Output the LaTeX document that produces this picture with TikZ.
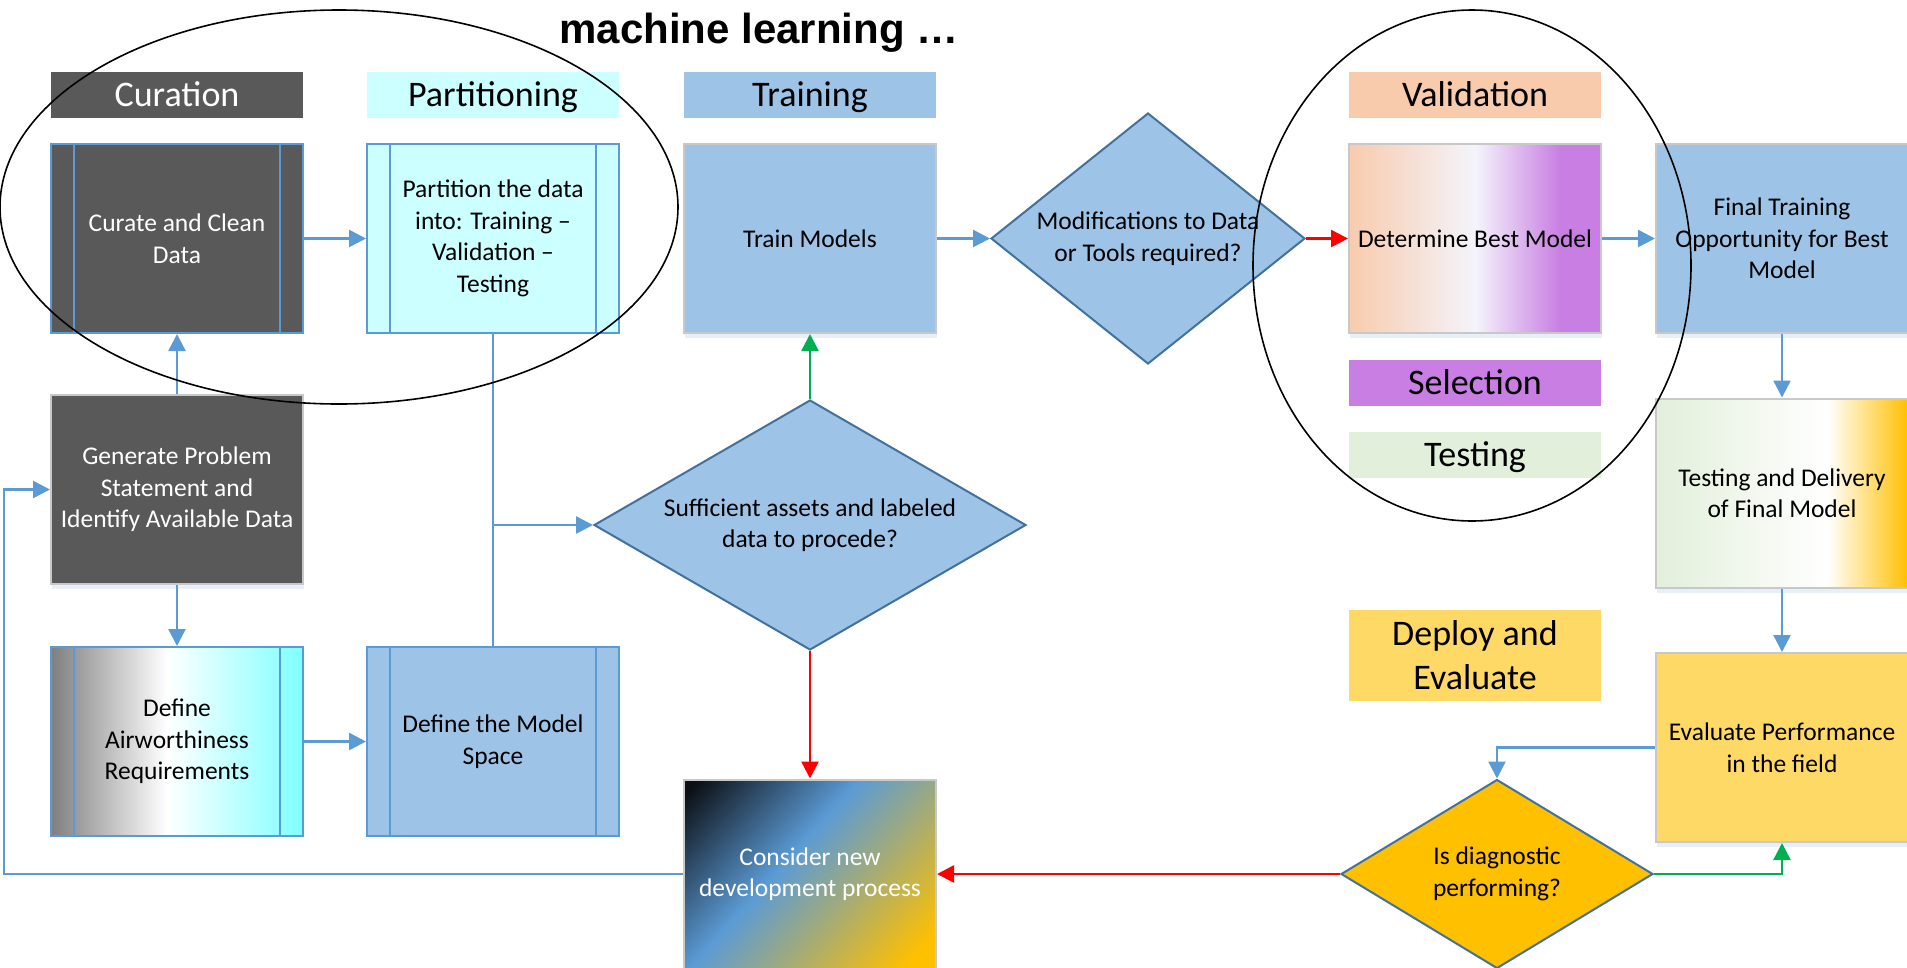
\documentclass[tikz,border=0pt]{standalone}
\usepackage{fontspec}
\setmainfont{Carlito}
\newfontfamily\titlefont{Liberation Sans}
\usetikzlibrary{calc}
\usetikzlibrary{arrows.meta}
\usetikzlibrary{shapes.geometric}
\usetikzlibrary{shadows}

\definecolor{curgray}{HTML}{595959}
\definecolor{partcyan}{HTML}{CCFFFF}
\definecolor{trainblue}{HTML}{9DC3E6}
\definecolor{valpeach}{HTML}{F8CBAD}
\definecolor{selpurple}{HTML}{C87EE2}
\definecolor{testgreen}{HTML}{E2EFDA}
\definecolor{deployyellow}{HTML}{FFD966}
\definecolor{gold}{HTML}{FFC000}
\definecolor{lineblue}{HTML}{5B9BD5}
\definecolor{edgeblue}{HTML}{41719C}
\definecolor{edgegray}{HTML}{C8C8C8}
\definecolor{aircyan}{HTML}{7FFFFF}
\definecolor{airgray}{HTML}{7F7F7F}
\definecolor{paleblue}{HTML}{F4F4FB}
\definecolor{darknavy}{HTML}{0C0F14}
\definecolor{arrowred}{HTML}{FF0000}
\definecolor{arrowgreen}{HTML}{00B050}

\pgfdeclarehorizontalshading{airshade}{100bp}{color(0bp)=(airgray); color(25bp)=(airgray); color(48bp)=(white); color(75bp)=(aircyan); color(100bp)=(aircyan)}
\pgfdeclarehorizontalshading{bestshade}{100bp}{color(0bp)=(valpeach); color(25bp)=(valpeach); color(50bp)=(paleblue); color(67bp)=(selpurple); color(100bp)=(selpurple)}
\pgfdeclarehorizontalshading{delivshade}{100bp}{color(0bp)=(testgreen); color(25bp)=(testgreen); color(59bp)=(white); color(75bp)=(gold); color(100bp)=(gold)}
\pgfdeclarehorizontalshading{newshade}{100bp}{color(0bp)=(darknavy); color(17bp)=(darknavy); color(44bp)=(lineblue); color(80bp)=(gold); color(100bp)=(gold)}

\newcommand{\boxfont}{\fontsize{25.5}{31.5}\selectfont}
\newcommand{\hdrfont}{\fontsize{36}{44}\selectfont}

\tikzset{
 procbox/.style={rectangle, draw=lineblue, line width=2pt, minimum width=252pt, minimum height=189pt, align=center, font=\boxfont,
  path picture={\draw[lineblue, line width=2pt] ($(path picture bounding box.north west)+(23,0)$) -- ($(path picture bounding box.south west)+(23,0)$)
   ($(path picture bounding box.north east)+(-23,0)$) -- ($(path picture bounding box.south east)+(-23,0)$);}},
 plainbox/.style={rectangle, draw=edgegray, line width=2pt, minimum width=252pt, minimum height=189pt, align=center, font=\boxfont,
  drop shadow={shadow xshift=1pt, shadow yshift=-5pt, fill=lineblue, opacity=.15}},
 hdrbox/.style={rectangle, minimum width=252pt, minimum height=46pt, align=center, font=\hdrfont, inner sep=0pt},
 decision/.style={diamond, draw=edgeblue, line width=2pt, align=center, font=\boxfont, inner sep=0pt},
 flow/.style={lineblue, line width=2.5pt, ->},
 yesflow/.style={arrowgreen, line width=2.5pt, ->},
 noflow/.style={arrowred, line width=2.5pt, ->}
}

\begin{document}
\begin{tikzpicture}[x=1pt, y=-1pt, >={Triangle[length=17pt,width=17pt]}]
\useasboundingbox (0,0) rectangle (1907,967);
\node[font={\titlefont\bfseries\fontsize{42}{50}\selectfont}, anchor=base] (title) at (759,43) {machine learning …};
\foreach \hx/\hy/\hcol/\htcol/\htxt in {177/95/curgray/white/Curation, 493/95/partcyan/black/Partitioning, 810/95/trainblue/black/Training,
  1475/95/valpeach/black/Validation, 1475/382.5/selpurple/black/Selection, 1475/455/testgreen/black/Testing}
 \node[hdrbox, fill=\hcol, text=\htcol, text height=23pt, text depth=0pt] (hdr\htxt) at (\hx,\hy) {\htxt};
\node[hdrbox, fill=deployyellow, minimum height=91pt] (hdrDeploy) at (1475,655.5) {Deploy and\\Evaluate};

\node[procbox, fill=curgray, text=white] (curate) at (177,238.5) {Curate and Clean\\Data};
\node[procbox, fill=partcyan] (partition) at (493,238.5) {Partition the data\\into: Training –\\Validation –\\Testing};
\node[plainbox, fill=trainblue] (train) at (810,238.5) {Train Models};
\node[decision, fill=trainblue, minimum width=314pt, minimum height=251pt, aspect=1.25] (modify) at (1148,238.5) {Modifications to Data\\or Tools required?};
\node[plainbox, shading=bestshade] (best) at (1475,238.5) {Determine Best Model};
\node[plainbox, fill=trainblue] (final) at (1782,238.5) {Final Training\\Opportunity for Best\\Model};
\node[plainbox, shading=delivshade] (deliver) at (1782,493) {Testing and Delivery\\of Final Model};
\node[plainbox, fill=deployyellow] (evaluate) at (1782,747.5) {Evaluate Performance\\in the field};
\node[decision, fill=gold, minimum width=312pt, minimum height=189pt, aspect=1.66] (perform) at (1497,874) {Is diagnostic\\performing?};
\node[plainbox, shading=newshade, shading angle=-42, text=white] (rethink) at (810,874) {Consider new\\development process};
\node[decision, fill=trainblue, minimum width=432pt, minimum height=250pt, aspect=1.73] (assets) at (810,525) {Sufficient assets and labeled\\data to procede?};
\node[plainbox, fill=curgray, text=white] (problem) at (177,489.5) {Generate Problem\\Statement and\\Identify Available Data};
\node[procbox, shading=airshade] (airworth) at (177,741.5) {Define\\Airworthiness\\Requirements};
\node[procbox, fill=trainblue] (modelspace) at (493,741.5) {Define the Model\\Space};

\coordinate (merge) at (partition.south |- assets.west);
\coordinate (backleft) at (4,874);
\draw[flow] (curate.east) -- (partition.west);
\draw[flow] (problem.north) -- (curate.south);
\draw[flow] (problem.south) -- (airworth.north);
\draw[flow] (airworth.east) -- (modelspace.west);
\draw[flow] (partition.south) -- (merge) -- (assets.west);
\draw[lineblue, line width=2.5pt] (modelspace.north) -- (merge);
\draw[yesflow] (assets.north) -- (train.south);
\draw[noflow] (assets.south) -- (rethink.north);
\draw[flow] (train.east) -- (modify.west);
\draw[noflow] (modify.east) -- (best.west);
\draw[flow] (best.east) -- (final.west);
\draw[flow] (final.south) -- (deliver.north);
\draw[flow] (deliver.south) -- (evaluate.north);
\draw[flow] (evaluate.west) -| (perform.north);
\draw[yesflow] (perform.east) -| (evaluate.south);
\draw[noflow] (perform.west) -- (rethink.east);
\draw[flow] (rethink.west) -- (backleft) |- (problem.west);

\draw[black, line width=1.6pt] (339,207) ellipse [x radius=339pt, y radius=197pt];
\draw[black, line width=1.6pt] (1472,265.5) ellipse [x radius=219pt, y radius=255.5pt];
\end{tikzpicture}
\end{document}
